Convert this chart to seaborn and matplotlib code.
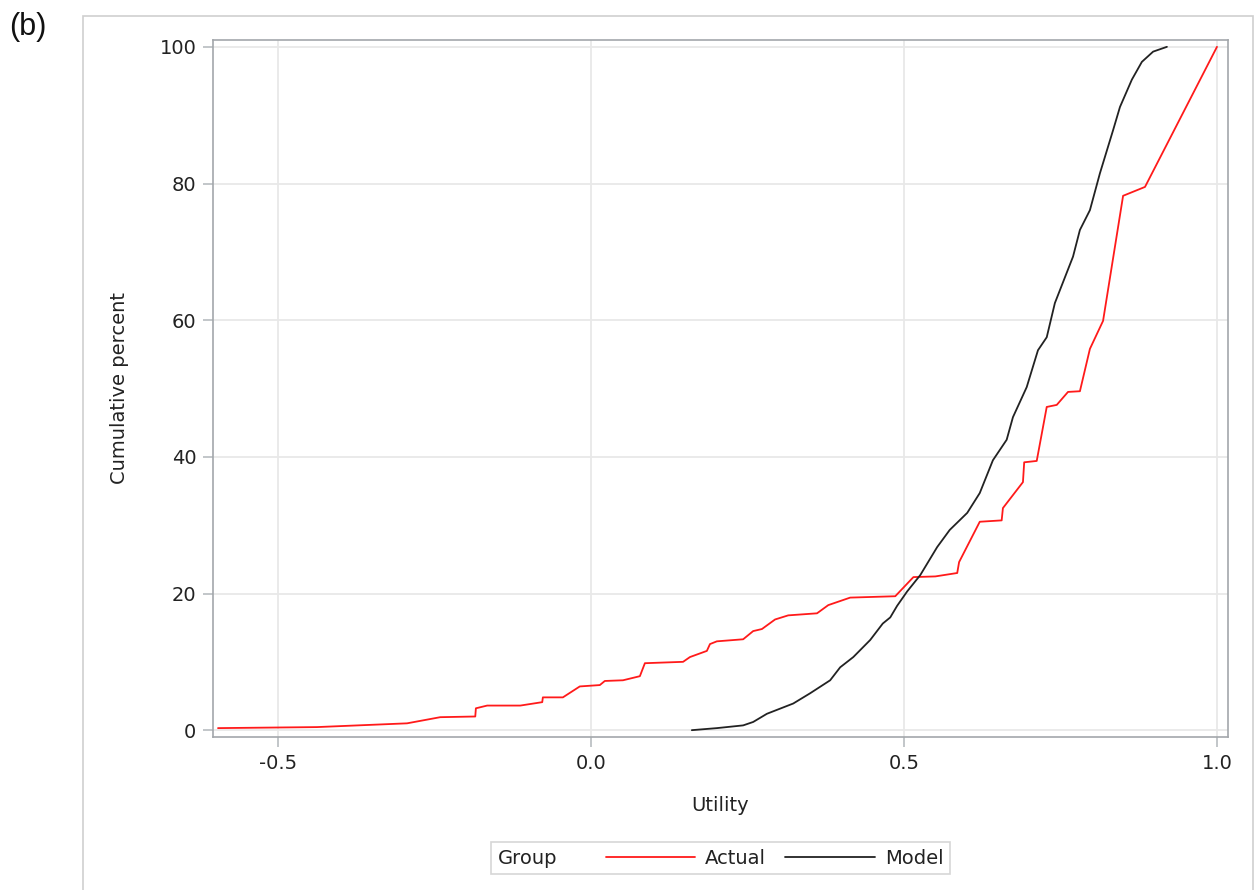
import matplotlib
matplotlib.use("Agg")
import matplotlib.pyplot as plt
from matplotlib.patches import Rectangle
from matplotlib.offsetbox import HPacker
import seaborn as sns
import pandas as pd

# Cumulative distribution of utility values
actual_utility = [-0.596, -0.438, -0.294, -0.241, -0.185, -0.184, -0.166, -0.113, -0.078, -0.077,
                  -0.045, -0.018, 0.014, 0.022, 0.051, 0.078, 0.086, 0.147, 0.158, 0.185,
                  0.190, 0.201, 0.243, 0.259, 0.273, 0.294, 0.315, 0.361, 0.379, 0.414,
                  0.486, 0.515, 0.550, 0.585, 0.588, 0.621, 0.656, 0.658, 0.690, 0.692,
                  0.712, 0.728, 0.744, 0.762, 0.781, 0.797, 0.818, 0.850, 0.885, 1.000]
actual_cumpct = [0.3, 0.45, 1.0, 1.9, 2.0, 3.2, 3.6, 3.6, 4.1, 4.8,
                 4.8, 6.4, 6.6, 7.2, 7.3, 7.9, 9.8, 10.0, 10.7, 11.6,
                 12.6, 13.0, 13.3, 14.5, 14.8, 16.2, 16.8, 17.1, 18.3, 19.4,
                 19.6, 22.4, 22.5, 23.0, 24.6, 30.5, 30.7, 32.5, 36.3, 39.2,
                 39.4, 47.3, 47.6, 49.5, 49.6, 55.8, 59.9, 78.2, 79.5, 100.0]

model_utility = [0.161, 0.201, 0.243, 0.259, 0.281, 0.323, 0.350, 0.382, 0.398, 0.419,
                 0.446, 0.466, 0.478, 0.489, 0.505, 0.526, 0.553, 0.573, 0.601, 0.621,
                 0.642, 0.664, 0.674, 0.696, 0.714, 0.728, 0.741, 0.770, 0.781, 0.797,
                 0.813, 0.834, 0.845, 0.864, 0.880, 0.898, 0.920]
model_cumpct = [0.0, 0.3, 0.7, 1.2, 2.4, 3.9, 5.4, 7.3, 9.2, 10.7,
                13.2, 15.6, 16.5, 18.2, 20.3, 22.7, 26.8, 29.3, 31.8, 34.7,
                39.5, 42.5, 45.8, 50.2, 55.6, 57.5, 62.5, 69.3, 73.2, 76.1,
                81.5, 87.8, 91.2, 95.2, 97.8, 99.3, 100.0]

groups = ["Actual", "Model"]
group_colors = {"Actual": "#ff1a1a", "Model": "#222222"}
x_ticks = [-0.5, 0.0, 0.5, 1.0]
x_tick_labels = ["-0.5", "0.0", "0.5", "1.0"]
y_ticks = [0, 20, 40, 60, 80, 100]

df = pd.concat([
    pd.DataFrame({"Utility": actual_utility, "Cumulative percent": actual_cumpct, "Group": "Actual"}),
    pd.DataFrame({"Utility": model_utility, "Cumulative percent": model_cumpct, "Group": "Model"}),
], ignore_index=True)

sns.set_theme(style="white")
plt.rcParams["font.family"] = ["DejaVu Sans"]

FS = 14

fig = plt.figure(figsize=(12.56, 8.90), dpi=100)
ax = fig.add_axes([213 / 1256, 1 - 737 / 890, (1228 - 213) / 1256, (737 - 40) / 890])

# outer panel border
fig.patches.append(Rectangle((83 / 1256, -0.01), (1253 - 83) / 1256, 1 - 16 / 890 + 0.01,
                             transform=fig.transFigure, fill=False,
                             edgecolor="#cfcfcf", linewidth=1.2))

sns.lineplot(data=df, x="Utility", y="Cumulative percent", hue="Group",
             hue_order=groups, palette=group_colors, estimator=None,
             linewidth=1.3, ax=ax)

ax.set_xlim(-0.604, 1.0176)
ax.set_ylim(-1.0, 101.0)
ax.set_xticks(x_ticks)
ax.set_xticklabels(x_tick_labels)
ax.set_yticks(y_ticks)
ax.grid(True, color="#e8e8e8", linewidth=1.3)
ax.set_axisbelow(True)
for s in ax.spines.values():
    s.set_color("#a3a7ab")
    s.set_linewidth(1.2)
ax.tick_params(axis="both", which="major", length=7, width=1.2, color="#b8bcc0",
               labelsize=FS, labelcolor="#222222", pad=5, direction="out",
               bottom=True, left=True)
ax.set_xlabel("Utility", fontsize=FS, color="#222222", labelpad=17)
ax.set_ylabel("Cumulative percent", fontsize=FS, color="#222222", labelpad=22)

# legend in a single row with the title on the left
leg = ax.legend(title="Group", loc="upper center", bbox_to_anchor=(0.5, -0.1506),
                ncol=2, frameon=True, fontsize=FS, title_fontsize=FS,
                handlelength=4.6, handletextpad=0.5, columnspacing=1.0,
                borderpad=0.25, borderaxespad=0.0, fancybox=False, edgecolor="#cccccc")
leg.get_frame().set_linewidth(1.2)
try:
    fs_px = FS * 100 / 72
    box = HPacker(pad=0.25 * fs_px, sep=1.8 * fs_px, align="center",
                  children=[leg._legend_title_box, leg._legend_handle_box])
    box.set_figure(fig)
    box.axes = ax
    leg._legend_box = box
    box.set_offset(leg._findoffset)
except Exception:
    pass
for text in leg.get_texts():
    text.set_color("#222222")
leg.get_title().set_color("#222222")

fig.text(9 / 1256, 1 - 27 / 890, "(b)", fontsize=22, family=["Liberation Sans", "DejaVu Sans"],
         va="center", ha="left", color="#111111")

fig.savefig("out.png", dpi=100)
